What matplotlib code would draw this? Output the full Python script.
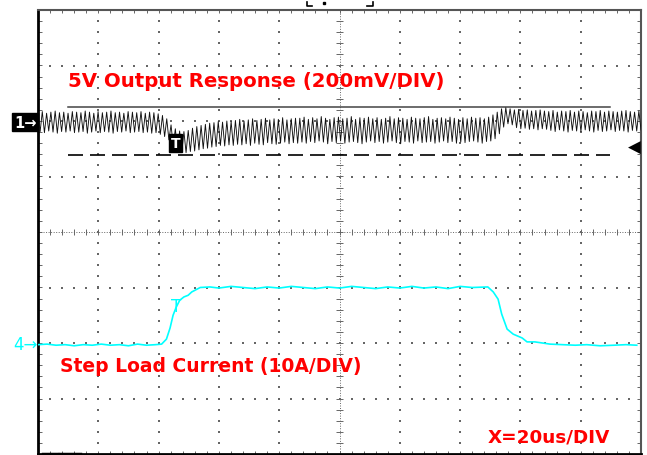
import numpy as np
import matplotlib.pyplot as plt

# Scope capture, everything in screen divisions (10 x 8)
# channel 1 ripple: peak and trough of each switching cycle, in segments
ch1_top_pre = [2.15, 2.17, 2.14, 2.16, 2.18, 2.15, 2.16, 2.14, 2.17, 2.16,
               2.15, 2.18, 2.16, 2.14, 2.17, 2.15, 2.16, 2.18, 2.15, 2.16,
               2.14, 2.17, 2.16, 2.15, 2.17, 2.14, 2.16, 2.15, 2.13, 2.10]
ch1_bot_pre = [1.81, 1.79, 1.82, 1.80, 1.78, 1.81, 1.80, 1.82, 1.79, 1.80,
               1.81, 1.78, 1.80, 1.82, 1.79, 1.81, 1.80, 1.78, 1.81, 1.80,
               1.82, 1.79, 1.80, 1.81, 1.79, 1.80, 1.78, 1.79, 1.76, 1.72]
ch1_top_dip = [2.04, 1.93, 1.86, 1.82, 1.81, 1.83, 1.87, 1.90, 1.92, 1.94,
               1.96, 1.97, 1.99, 1.98, 2.00, 1.99]
ch1_bot_dip = [1.66, 1.55, 1.47, 1.44, 1.43, 1.45, 1.46, 1.48, 1.50, 1.51,
               1.53, 1.54, 1.56, 1.55, 1.57, 1.56]
ch1_top_rec = [2.01, 2.03, 2.00, 2.02, 2.04, 2.01, 2.03, 2.05, 2.02, 2.04,
               2.03, 2.06, 2.02, 2.04, 2.05]
ch1_bot_rec = [1.58, 1.57, 1.59, 1.56, 1.60, 1.58, 1.57, 1.61, 1.59, 1.58,
               1.60, 1.62, 1.59, 1.61, 1.60]
ch1_top_load = [2.05, 2.07, 2.03, 2.06, 2.04, 2.08, 2.05, 2.03, 2.06, 2.07,
                2.04, 2.05, 2.08, 2.03, 2.06, 2.05, 2.07, 2.04, 2.06, 2.03,
                2.05, 2.08, 2.04, 2.06, 2.05, 2.03, 2.07, 2.05, 2.04, 2.06,
                2.08, 2.03, 2.05, 2.06, 2.04, 2.07, 2.05, 2.03, 2.06, 2.04,
                2.07, 2.05, 2.06, 2.04, 2.07]
ch1_bot_load = [1.62, 1.60, 1.63, 1.61, 1.64, 1.62, 1.59, 1.63, 1.61, 1.64,
                1.60, 1.62, 1.63, 1.61, 1.59, 1.62, 1.64, 1.61, 1.63, 1.60,
                1.62, 1.64, 1.61, 1.59, 1.63, 1.62, 1.60, 1.64, 1.61, 1.62,
                1.63, 1.60, 1.62, 1.64, 1.61, 1.63, 1.60, 1.62, 1.61, 1.63,
                1.64, 1.62, 1.60, 1.63, 1.64]
ch1_top_over = [2.11, 2.16, 2.22, 2.24, 2.22, 2.20, 2.21, 2.19, 2.20, 2.18,
                2.19, 2.20, 2.18]
ch1_bot_over = [1.68, 1.77, 1.89, 1.95, 1.93, 1.88, 1.86, 1.87, 1.85, 1.86,
                1.84, 1.86, 1.85]
ch1_top_post = [2.17, 2.19, 2.16, 2.18, 2.17, 2.19, 2.16, 2.18, 2.17, 2.15,
                2.18, 2.17, 2.19, 2.16, 2.18, 2.17, 2.16, 2.18, 2.19, 2.17,
                2.16, 2.18]
ch1_bot_post = [1.83, 1.81, 1.84, 1.82, 1.80, 1.83, 1.82, 1.81, 1.84, 1.82,
                1.80, 1.83, 1.81, 1.82, 1.84, 1.81, 1.83, 1.82, 1.80, 1.83,
                1.82, 1.84]

# channel 4 load current
ch4_t = [0.00, 0.15, 0.30, 0.45, 0.60, 0.75, 0.90, 1.05, 1.20, 1.35, 1.50,
         1.65, 1.80, 1.95, 2.05, 2.13, 2.19, 2.24, 2.29, 2.35, 2.42, 2.49,
         2.55, 2.62, 2.69, 2.85, 3.00, 3.20, 3.40, 3.60, 3.80, 4.00, 4.20,
         4.40, 4.60, 4.80, 5.00, 5.20, 5.40, 5.60, 5.80, 6.00, 6.20, 6.40,
         6.60, 6.80, 7.00, 7.20, 7.46, 7.55, 7.63, 7.69, 7.78, 7.88, 8.03,
         8.11, 8.24, 8.49, 8.70, 8.91, 9.10, 9.32, 9.55, 9.75, 9.93]
ch4_y = [-2.03, -2.02, -2.04, -2.03, -2.05, -2.03, -2.04, -2.02, -2.04, -2.03,
         -2.05, -2.02, -2.04, -2.03, -2.02, -1.93, -1.73, -1.50, -1.36, -1.23,
         -1.17, -1.14, -1.08, -1.04, -1.00, -0.99, -1.01, -0.98, -1.00, -1.02,
         -0.99, -1.01, -0.98, -1.00, -1.02, -0.99, -1.01, -0.98, -1.00, -1.02,
         -0.99, -1.01, -0.98, -1.01, -0.99, -1.02, -0.98, -1.00, -0.99, -1.08,
         -1.21, -1.48, -1.75, -1.84, -1.91, -1.98, -1.98, -2.02, -2.03, -2.04,
         -2.03, -2.05, -2.04, -2.03, -2.04]

ref_hi = 2.25
ref_lo = 1.39

ch1_top = ch1_top_pre + ch1_top_dip + ch1_top_rec + ch1_top_load + ch1_top_over + ch1_top_post
ch1_bot = ch1_bot_pre + ch1_bot_dip + ch1_bot_rec + ch1_bot_load + ch1_bot_over + ch1_bot_post
n = len(ch1_top)
p = 10 / (n - 0.5)
xs = np.empty(2 * n)
ys = np.empty(2 * n)
xs[0::2] = np.arange(n) * p
xs[1::2] = np.arange(n) * p + p / 2
ys[0::2] = ch1_top
ys[1::2] = ch1_bot

fig = plt.figure(figsize=(6.47, 4.56), dpi=100)
ax = fig.add_axes([38 / 647, 1 / 456, 603 / 647, 444 / 456])
ax.set_xlim(0, 10)
ax.set_ylim(-4, 4)
ax.set_xticks([])
ax.set_yticks([])
for s in ['left', 'bottom']:
    ax.spines[s].set_linewidth(2)
    ax.spines[s].set_color('black')
for s in ['top', 'right']:
    ax.spines[s].set_linewidth(1.5)
    ax.spines[s].set_color('#555555')

# graticule
grid_col = '#666666'
hx = np.arange(0.2, 10, 0.2)
vy = np.arange(-3.8, 4, 0.2)
gx, gy = [], []
for g in [1, 2, 3, 4, 6, 7, 8, 9]:
    gx += [g] * len(vy)
    gy += list(vy)
for g in [-3, -2, -1, 1, 2, 3]:
    gx += list(hx)
    gy += [g] * len(hx)
ax.scatter(gx, gy, s=0.6, marker='s', color=grid_col, linewidths=0, zorder=1)
ax.plot([0, 10], [0, 0], ls=(0, (1, 1.6)), lw=0.7, color=grid_col, zorder=1)
ax.plot([5, 5], [-4, 4], ls=(0, (1, 1.6)), lw=0.7, color=grid_col, zorder=1)
ax.vlines(hx, -0.06, 0.06, color=grid_col, lw=0.7, zorder=1)
ax.hlines(vy, 4.95, 5.05, color=grid_col, lw=0.7, zorder=1)
ax.hlines(vy, 0, 0.06, color=grid_col, lw=0.7)
ax.hlines(vy, 9.94, 10, color=grid_col, lw=0.7)
ax.vlines(hx, -4, -3.94, color=grid_col, lw=0.7)
ax.vlines(hx, 3.94, 4, color=grid_col, lw=0.7)

# reference levels
ax.plot([0.5, 9.49], [ref_hi, ref_hi], color='#444444', lw=1.1, zorder=2)
ax.plot([0.5, 9.49], [ref_lo, ref_lo], color='black', lw=1.2,
        ls=(0, (9, 4.2)), zorder=2)

# traces
ax.plot(xs, ys, color='#111111', lw=0.65, zorder=3)
ax.plot(ch4_t, ch4_y, color='#00FFFF', lw=1.2, zorder=3)

# markers
ax.text(-0.40, 1.98, '1\u2192', color='white', fontsize=10.5, fontweight='bold',
        ha='left', va='center', clip_on=False,
        bbox=dict(boxstyle='square,pad=0.1', fc='black', ec='black'))
ax.text(-0.41, -2.02, '4\u2192', color='#00FFFF', fontsize=12,
        ha='left', va='center', clip_on=False)
ax.text(2.28, 1.61, 'T', color='white', fontsize=10, fontweight='bold',
        ha='center', va='center', zorder=4,
        bbox=dict(boxstyle='square,pad=0.15', fc='black', ec='black'))
ax.text(2.29, -1.33, 'T', color='#00FFFF', fontsize=12,
        ha='center', va='center', zorder=4)
ax.text(10.0, 1.53, '\u25c0', color='black', fontsize=12,
        ha='right', va='center', zorder=4)
ax.plot([4.46, 4.46, 4.55], [4.15, 4.07, 4.07], color='black', lw=1.2, clip_on=False)
ax.plot([5.46, 5.55, 5.55], [4.07, 4.07, 4.15], color='black', lw=1.2, clip_on=False)
ax.plot([4.74], [4.13], marker='s', ms=1.5, color='black', clip_on=False)
ax.plot([0.08, 0.32], [-4, -4], color='black', lw=2.5, clip_on=False)
ax.plot([0.37, 0.70], [-4, -4], color='black', lw=2.5, clip_on=False)

# labels
lab = dict(color='#FF0000', fontweight='bold', family='DejaVu Sans',
           va='baseline', ha='left')
ax.text(0.5, 2.63, '5V Output Response (200mV/DIV)', fontsize=14.2, **lab)
ax.text(0.365, -2.50, 'Step Load Current (10A/DIV)', fontsize=13.5, **lab)
ax.text(7.45, -3.78, 'X=20us/DIV', fontsize=13.2, **lab)

fig.savefig('out.png', dpi=100)
